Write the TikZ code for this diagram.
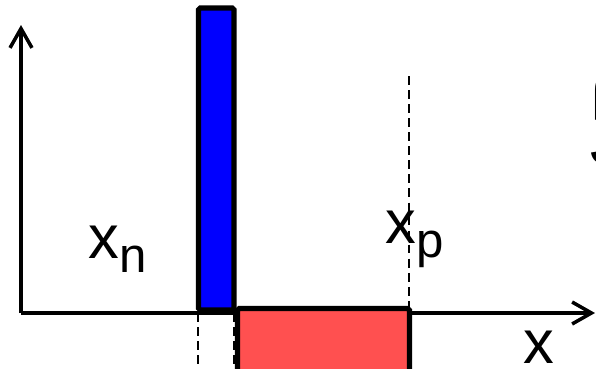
\documentclass[tikz,border=0pt]{standalone}
\usepackage{fontspec}
\setmainfont{Liberation Sans}
\usetikzlibrary{positioning,arrows.meta}

\definecolor{pside}{RGB}{255,80,80}
\definecolor{nside}{RGB}{0,0,255}
\newcommand{\sublbl}[2]{#1\raisebox{-8.5pt}{\fontsize{28}{30}\selectfont #2}}

\begin{document}
\begin{tikzpicture}[x=0.02cm, y=-0.02cm,
  axis/.style={line width=2pt, -{Straight Barb[length=11pt,width=12.5pt,line width=2pt]}},
  slab/.style={draw=black, line width=3pt, rounded corners=1pt},
  guide/.style={line width=1.2pt, dash pattern=on 5pt off 3pt},
  lab/.style={font={\fontsize{35}{40}\selectfont}, inner sep=0pt, anchor=base west}
]
\useasboundingbox (0,0) rectangle (596,369);
\coordinate (o) at (21,313);
\coordinate (ytip) at (21,25);
\coordinate (xtip) at (595,313);
\draw[guide] (198,313) -- (198,369);
\draw[guide] (234,313) -- (234,369);
\draw[guide] (409,76) -- (409,308);
\draw[axis] (o) -- (ytip);
\draw[axis] (o) -- (xtip);
\draw[slab, fill=nside] (198.5,8) rectangle (234,310);
\draw[slab, fill=pside] (237.5,308.5) rectangle (409.5,400);
\node[lab] (xn) at (88,258) {\sublbl{x}{n}};
\node[lab] (xp) at (385,243) {\sublbl{x}{p}};
\node[lab] (xax) at (523,363) {x};
\node[lab] (rho) at (591,107) {ρ};
\node[lab] (jc) at (590,163) {J};
\end{tikzpicture}
\end{document}
